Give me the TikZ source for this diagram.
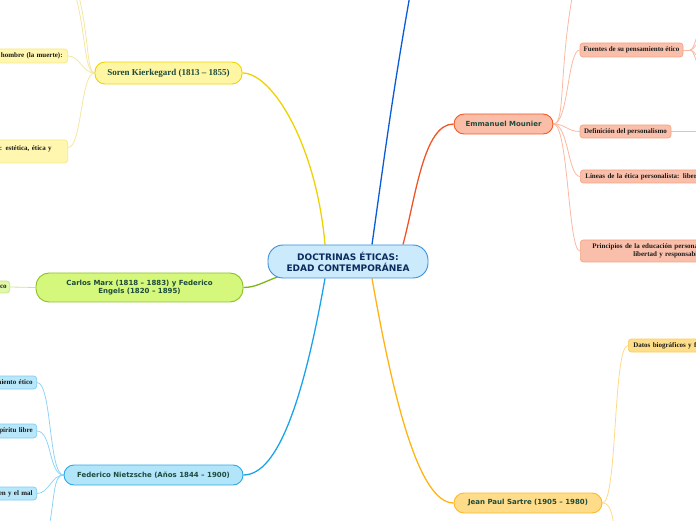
\documentclass[tikz,border=0pt]{standalone}
\usepackage{fontspec}
\setmainfont{Liberation Serif}
\newfontfamily\vsans{DejaVu Sans}
\usetikzlibrary{backgrounds}
\definecolor{cfill}{HTML}{CBEAFB}
\definecolor{cdraw}{HTML}{3D8ED8}
\definecolor{ctext}{HTML}{0B2A5E}
\definecolor{mtext}{HTML}{1D4B3C}
\definecolor{leaftext}{HTML}{1A1A1A}
\definecolor{kfill}{HTML}{FFF6A3}
\definecolor{kdraw}{HTML}{EED400}
\definecolor{klfill}{HTML}{FFF7B0}
\definecolor{kldraw}{HTML}{F6E88A}
\definecolor{kline}{HTML}{F5E6A0}
\definecolor{gfill}{HTML}{D4F77C}
\definecolor{gdraw}{HTML}{8CC02A}
\definecolor{glfill}{HTML}{E0F8A8}
\definecolor{gldraw}{HTML}{C5E58A}
\definecolor{gline}{HTML}{C8E890}
\definecolor{nfill}{HTML}{B2E5FA}
\definecolor{ndraw}{HTML}{2AAAE5}
\definecolor{nlfill}{HTML}{B8E7FA}
\definecolor{nldraw}{HTML}{7FCDF2}
\definecolor{nline}{HTML}{90D4F5}
\definecolor{ofill}{HTML}{F9BDA8}
\definecolor{odraw}{HTML}{F25A26}
\definecolor{olfill}{HTML}{F9BFAA}
\definecolor{oldraw}{HTML}{F5A588}
\definecolor{oline}{HTML}{F9B9A2}
\definecolor{sfill}{HTML}{FFDC8A}
\definecolor{sdraw}{HTML}{FDB825}
\definecolor{slfill}{HTML}{FFDE8A}
\definecolor{sldraw}{HTML}{F8CC60}
\definecolor{sline}{HTML}{FFD98A}
\definecolor{cyel}{HTML}{EDD300}
\definecolor{cblue}{HTML}{0B5BD6}
\definecolor{cora}{HTML}{F05426}
\definecolor{cgreen}{HTML}{7CB518}
\definecolor{clblue}{HTML}{1BA3E8}
\definecolor{corange}{HTML}{FFB414}
\tikzset{
  mainnode/.style={draw, rounded corners=10pt, line width=0.9pt, inner sep=0pt, align=center, text=mtext,
    font=\vsans\bfseries\fontsize{7}{8.5}\selectfont},
  leaf/.style={draw, rounded corners=3pt, line width=0.7pt, inner ysep=0pt, text=leaftext,
    font=\bfseries\fontsize{7}{7.5}\selectfont},
  mainline/.style={line width=1.3pt},
  leafline/.style={line width=0.8pt},
}
\begin{document}
\begin{tikzpicture}[x=1pt,y=1pt]
\useasboundingbox (0,0) rectangle (696,520);
% central
\node[mainnode, fill=cfill, draw=cdraw, text=ctext, minimum width=160pt, minimum height=33pt, rounded corners=15pt,
  font=\vsans\bfseries\fontsize{9}{11}\selectfont] (c) at (348,258.5) {DOCTRINAS ÉTICAS:\\EDAD CONTEMPORÁNEA};
% main nodes
\node[mainnode, fill=kfill, draw=kdraw, minimum width=147pt, minimum height=22pt,
  font=\bfseries\fontsize{9}{10}\selectfont] (kier) at (168.5,447) {Soren Kierkegard (1813 – 1855)};
\node[mainnode, fill=gfill, draw=gdraw, minimum width=207pt, minimum height=29pt, rounded corners=13pt] (marx) at (139.5,232.5) {Carlos Marx (1818 – 1883) y Federico\\Engels (1820 – 1895)};
\node[mainnode, fill=nfill, draw=ndraw, minimum width=179pt, minimum height=20pt] (nie) at (153.5,45) {Federico Nietzsche (Años 1844 – 1900)};
\node[mainnode, fill=ofill, draw=odraw, minimum width=99pt, minimum height=20pt] (mou) at (503.5,396) {Emmanuel Mounier};
\node[mainnode, fill=sfill, draw=sdraw, minimum width=148pt, minimum height=20pt] (sar) at (528,17) {Jean Paul Sartre (1905 – 1980)};
% leaves
\node[leaf, fill=klfill, draw=kldraw, anchor=east, minimum height=14pt, text width=100pt, inner xsep=5pt, align=right] (kc1) at (68,464) {hombre (la muerte):};
\node[leaf, fill=klfill, draw=kldraw, anchor=east, minimum height=23pt, text width=90pt, inner xsep=16pt, align=right] (kc2) at (68,368.5) {: estética, ética y\\ \mbox{}};
\node[leaf, fill=glfill, draw=gldraw, anchor=east, minimum height=12pt, text width=20pt, inner xsep=3pt, align=right] (mc) at (10,233) {co};
\node[leaf, fill=nlfill, draw=nldraw, anchor=east, minimum height=13pt, text width=50pt, inner xsep=4pt, align=right] (nc1) at (37,137.5) {miento ético};
\node[leaf, fill=nlfill, draw=nldraw, anchor=east, minimum height=14pt, text width=50pt, inner xsep=4pt, align=right] (nc2) at (37,89) {spíritu libre};
\node[leaf, fill=nlfill, draw=nldraw, anchor=east, minimum height=13pt, text width=50pt, inner xsep=4pt, align=right] (nc3) at (37,26.5) {ien y el mal};
\node[leaf, fill=olfill, draw=oldraw, minimum width=103pt, minimum height=14pt, inner xsep=0pt] (mo1) at (631.5,470) {Fuentes de su pensamiento ético};
\node[leaf, fill=olfill, draw=oldraw, minimum width=91pt, minimum height=13pt, inner xsep=0pt] (mo2) at (625.5,388.5) {Definición del personalismo};
\node[leaf, fill=olfill, draw=oldraw, anchor=west, minimum height=13pt, text width=150pt, inner xsep=5pt, align=left] (mo3) at (580,343.5) {Líneas de la ética personalista: libert};
\node[leaf, fill=olfill, draw=oldraw, anchor=west, minimum height=22pt, text width=150pt, inner xsep=12pt, align=left] (mo4) at (580,269) {Principios de la educación personal\\\hspace*{41pt}libertad y responsabi};
\node[leaf, fill=slfill, draw=sldraw, anchor=west, minimum height=13pt, text width=100pt, inner xsep=5pt, align=left] (sa1) at (628,174.5) {Datos biográficos y fu};
% free ends
\coordinate (kt1) at (75.5,525);
\coordinate (kt2) at (78.5,525);
\coordinate (bt) at (410,525);
\coordinate (mt) at (572.5,525);
\coordinate (nb) at (49.5,-5);
\coordinate (sb) at (614,-5);
\coordinate (fs) at (690,470);
\coordinate (f1) at (702,489);
\coordinate (f2) at (702,479);
\coordinate (f3) at (702,461);
\coordinate (f4) at (702,452);
\coordinate (dn) at (702,388.5);
\begin{scope}[on background layer]
% main branches
\draw[mainline, draw=cyel] ([xshift=-23pt]c.north) to[out=95,in=0,out distance=100pt,in distance=30pt] (kier.east);
\draw[mainline, draw=cblue] ([xshift=24pt]c.north) to[out=82,in=-100] (bt);
\draw[mainline, draw=cora] ([xshift=55pt]c.north) to[out=75,in=180,out distance=50pt,in distance=30pt] (mou.west);
\draw[mainline, draw=cgreen] ([xshift=10pt,yshift=1.5pt]c.south west) to[out=200,in=0,out distance=15pt,in distance=12pt] (marx.east);
\draw[mainline, draw=clblue] ([xshift=-23pt]c.south) to[out=-100,in=0,out distance=120pt,in distance=35pt] (nie.east);
\draw[mainline, draw=corange] ([xshift=24pt]c.south) to[out=-80,in=180,out distance=120pt,in distance=35pt] (sar.west);
% Kierkegard leaves
\draw[leafline, draw=kline] (kier.west) to[out=180,in=0,out distance=12pt,in distance=12pt] (kc1.east);
\draw[leafline, draw=kline] (kier.west) to[out=180,in=0,out distance=14pt,in distance=14pt] ([yshift=4pt]kc2.east);
\draw[leafline, draw=kline] (kier.west) to[out=180,in=-75,out distance=10pt,in distance=40pt] (kt1);
\draw[leafline, draw=kline] (kier.west) to[out=180,in=-75,out distance=8pt,in distance=40pt] (kt2);
% Marx leaf
\draw[leafline, draw=gline] (marx.west) -- (mc.east);
% Nietzsche leaves
\draw[leafline, draw=nline] (nie.west) to[out=180,in=0,out distance=15pt,in distance=15pt] (nc1.east);
\draw[leafline, draw=nline] (nie.west) to[out=180,in=0,out distance=15pt,in distance=15pt] (nc2.east);
\draw[leafline, draw=nline] (nie.west) to[out=180,in=0,out distance=12pt,in distance=12pt] (nc3.east);
\draw[leafline, draw=nline] (nie.west) to[out=180,in=80,out distance=10pt,in distance=30pt] (nb);
% Mounier leaves
\draw[leafline, draw=oline] (mou.east) to[out=0,in=180,out distance=15pt,in distance=12pt] (mo1.west);
\draw[leafline, draw=oline] (mou.east) to[out=0,in=180,out distance=12pt,in distance=12pt] (mo2.west);
\draw[leafline, draw=oline] (mou.east) to[out=0,in=180,out distance=15pt,in distance=12pt] (mo3.west);
\draw[leafline, draw=oline] (mou.east) to[out=0,in=180,out distance=15pt,in distance=12pt] (mo4.west);
\draw[leafline, draw=oline] (mou.east) to[out=0,in=-100,out distance=12pt,in distance=80pt] (mt);
\draw[leafline, draw=oline] (mo1.east) -- (fs);
\draw[leafline, draw=oline] (fs) to[out=0,in=180,out distance=5pt,in distance=6pt] (f1);
\draw[leafline, draw=oline] (fs) to[out=0,in=180,out distance=5pt,in distance=6pt] (f2);
\draw[leafline, draw=oline] (fs) to[out=0,in=180,out distance=5pt,in distance=6pt] (f3);
\draw[leafline, draw=oline] (fs) to[out=0,in=180,out distance=5pt,in distance=6pt] (f4);
\draw[leafline, draw=oline] (mo2.east) -- (dn);
% Sartre leaves
\draw[leafline, draw=sline] (sar.east) to[out=0,in=180,out distance=15pt,in distance=15pt] (sa1.west);
\draw[leafline, draw=sline] (sar.east) to[out=0,in=100,out distance=8pt,in distance=10pt] (sb);
\end{scope}
\end{tikzpicture}
\end{document}
